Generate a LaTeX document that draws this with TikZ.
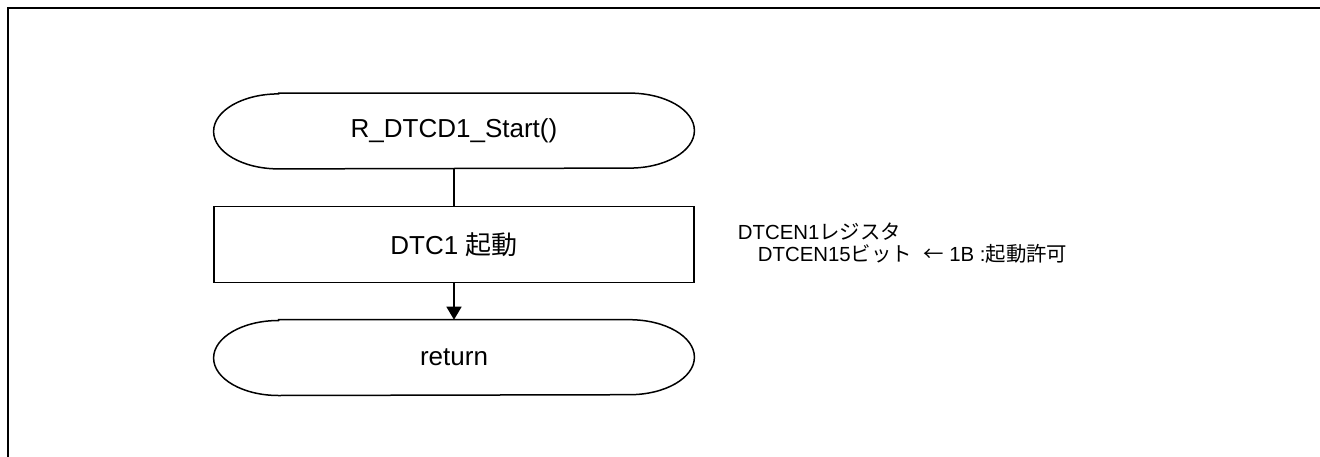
\documentclass[tikz,border=0pt]{standalone}
\usepackage{fontspec}
\setmainfont{Liberation Sans}
\newfontfamily\jp{Noto Sans CJK JP}
\usepackage{tikz}
\usetikzlibrary{positioning,arrows.meta}

\tikzset{
  term/.style={minimum width=240pt,minimum height=37.5pt,inner sep=0pt},
  proc/.style={draw,line width=0.75pt,minimum width=240pt,minimum height=38pt,inner sep=0pt},
  flow/.style={line width=0.75pt},
}

\begin{document}
\begin{tikzpicture}[every node/.style={on grid,node distance=56.65pt},font=\fontsize{13}{15}\selectfont]
    \useasboundingbox (0,0) rectangle (660pt,228pt);
    \draw[line width=1.2pt] (670pt,224pt) -| (4pt,-10pt);
    \node[term] (start) at (227pt,162.5pt) {R\_DTCD1\_Start()};
    \node[proc,below of=start] (dtc) {DTC1 {\jp 起動}};
    \node[term,below of=dtc] (ret) {return};
    % terminal outlines
    \foreach \n in {start,ret}
      \draw[flow] ([xshift=32.5pt]\n.north west) -- ([xshift=-32.5pt]\n.north east)
        arc[start angle=90,end angle=-90,x radius=32.5pt,y radius=18.75pt]
        -- ([xshift=32.5pt]\n.south west)
        arc[start angle=270,end angle=90,x radius=32.5pt,y radius=18.75pt] -- cycle;
    \draw[flow] (start) -- (dtc);
    \draw[flow,-{Triangle[length=6.5pt,width=7.5pt]}] (dtc) -- (ret);
    \node[anchor=west,align=left,xshift=18pt,yshift=0.5pt,font=\fontsize{10.2}{11}\selectfont] (note) at (dtc.east)
      {DTCEN1{\jp レジスタ}\\\hspace{10pt}DTCEN15{\jp ビット}\ \ {\jp ←} 1B :{\jp 起動許可}};
  \end{tikzpicture}
\end{document}
